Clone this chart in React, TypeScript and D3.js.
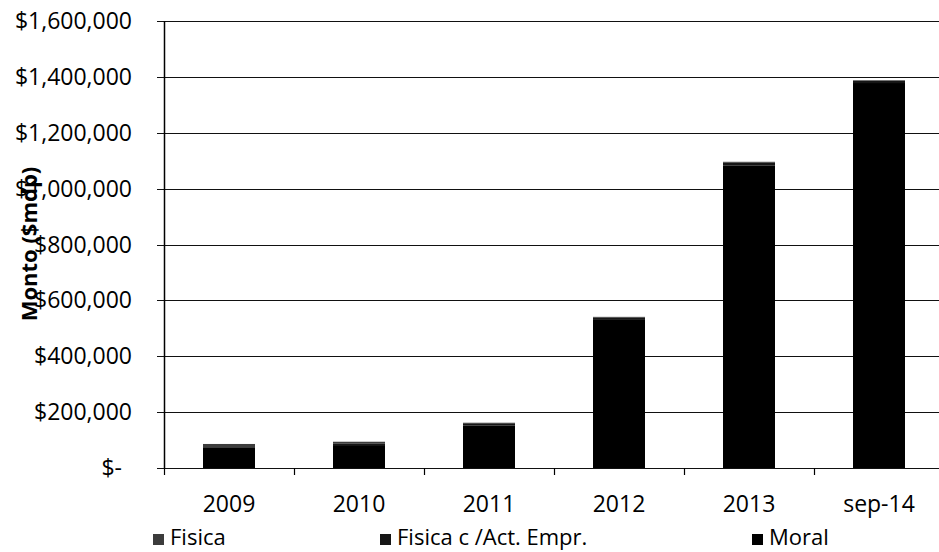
import React from "react";
import * as d3 from "d3";

// Categories and stacked series (monto in $ mdp)
const categories = ["2009", "2010", "2011", "2012", "2013", "sep-14"];
const seriesNames = ["Fisica", "Fisica c /Act. Empr.", "Moral"];
const fisica = [8000, 7000, 4000, 3000, 3000, 2000];
const fisicaActEmpr = [4000, 5000, 6000, 8000, 10000, 8000];
const moral = [74000, 82000, 152000, 530000, 1083000, 1378000];
const yTicks = [0, 200000, 400000, 600000, 800000, 1000000, 1200000, 1400000, 1600000];
const seriesColors = ["#3c3c3c", "#161616", "#000000"];

const W = 939;
const H = 552;
const margin = { left: 164, right: -5, top: 21, bottom: 84 };
const FONT = "'Open Sans', 'Noto Sans', sans-serif";

const fmt = (v: number) => (v === 0 ? "$-" : "$" + d3.format(",")(v));

export default function App() {
  const rows = categories.map((c, i) => ({
    cat: c,
    [seriesNames[0]]: fisica[i],
    [seriesNames[1]]: fisicaActEmpr[i],
    [seriesNames[2]]: moral[i],
  }));
  const stacked = d3
    .stack<any>()
    .keys(seriesNames)
    .order(d3.stackOrderReverse)(rows);

  const x = d3
    .scaleBand<string>()
    .domain(categories)
    .range([margin.left, W - margin.right])
    .paddingInner(0.6)
    .paddingOuter(0.3);
  const y = d3
    .scaleLinear()
    .domain([0, 1600000])
    .range([H - margin.bottom, margin.top]);

  const bounds = d3
    .range(categories.length + 1)
    .map((i) => margin.left + i * ((W - margin.right - margin.left) / categories.length));

  const legendX = [153, 380, 752];

  return (
    <svg width={W} height={H} style={{ position: "absolute", left: 0, top: 0, background: "#fff" }}>
      {/* gridlines and y ticks */}
      {yTicks.map((t) => (
        <g key={t}>
          <line x1={157} x2={W} y1={Math.round(y(t)) + 0.5} y2={Math.round(y(t)) + 0.5} stroke="#111" strokeWidth={1.2} />
          <text
            x={t === 0 ? 122 : 132}
            y={y(t) + 8}
            textAnchor="end"
            fontFamily={FONT}
            fontSize={23}
            fill="#000"
          >
            {fmt(t)}
          </text>
        </g>
      ))}
      {/* y axis */}
      <line x1={164.5} x2={164.5} y1={y(1600000)} y2={y(0)} stroke="#000" strokeWidth={1.5} />
      {/* x ticks at category boundaries */}
      {bounds.map((b, i) => (
        <line key={i} x1={b + 0.5} x2={b + 0.5} y1={y(0)} y2={y(0) + 7} stroke="#000" strokeWidth={1.2} />
      ))}
      {/* stacked bars */}
      {stacked.map((s) => (
        <g key={s.key} fill={seriesColors[seriesNames.indexOf(s.key)]}>
          {s.map((d: any) => (
            <rect
              key={d.data.cat}
              x={x(d.data.cat)}
              width={x.bandwidth()}
              y={y(d[1])}
              height={y(d[0]) - y(d[1])}
            />
          ))}
        </g>
      ))}
      {/* category labels */}
      {categories.map((c) => (
        <text
          key={c}
          x={(x(c) as number) + x.bandwidth() / 2}
          y={512}
          textAnchor="middle"
          fontFamily={FONT}
          fontSize={23}
          fill="#000"
        >
          {c}
        </text>
      ))}
      {/* axis title */}
      <text
        transform={`translate(37,${244}) rotate(-90)`}
        textAnchor="middle"
        fontFamily={FONT}
        fontSize={22}
        fontWeight="bold"
        fill="#000"
      >
        Monto ($mdp)
      </text>
      {/* legend */}
      {seriesNames.map((n, i) => (
        <g key={n}>
          <rect x={legendX[i]} y={534} width={11} height={11} fill={seriesColors[i]} />
          <text x={legendX[i] + 17} y={545} fontFamily={FONT} fontSize={22} fill="#000">
            {n}
          </text>
        </g>
      ))}
    </svg>
  );
}
